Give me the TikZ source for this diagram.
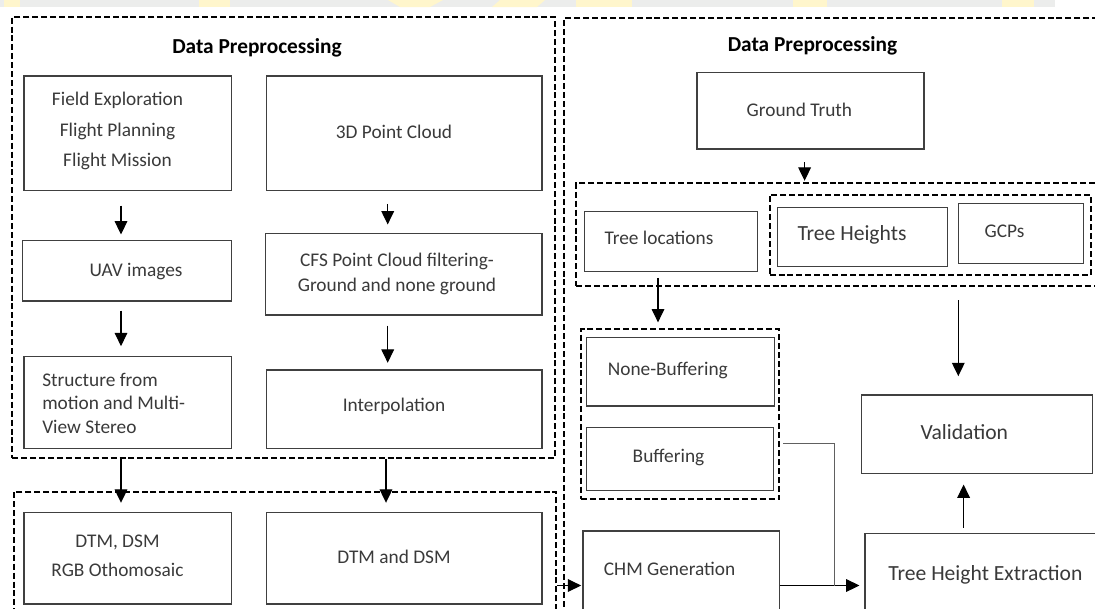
\documentclass[tikz,border=0pt]{standalone}
\usepackage{fontspec}
\setmainfont{Carlito}
\usetikzlibrary{fit,calc,arrows.meta}
\definecolor{boxline}{HTML}{404040}
\definecolor{txtc}{HTML}{3A3A3A}
\definecolor{lnkc}{HTML}{606060}
\definecolor{wmgray}{HTML}{ECEDEC}
\definecolor{wmyel}{HTML}{FFF6CC}
\begin{document}
\begin{tikzpicture}[x=0.75pt,y=-0.75pt,
  box/.style={draw=boxline, line width=0.8pt, inner sep=0pt},
  grp/.style={draw=black, line width=1.4pt, dash pattern=on 4.5pt off 2.2pt, inner sep=0pt},
  txt/.style={text=txtc, font=\fontsize{14.5}{17}\selectfont, inner sep=0pt, align=center},
  big/.style={txt, font=\fontsize{16.2}{19}\selectfont},
  ttl/.style={text=black, font=\bfseries\fontsize{16}{19}\selectfont, inner sep=0pt},
  arr/.style={draw=black, line width=0.8pt, -{Triangle[length=10pt,width=9.5pt]}},
  lnk/.style={draw=lnkc, line width=0.8pt},
]
\useasboundingbox (0,0) rectangle (1095,608);
\clip (0,0) rectangle (1095,608);
\fill[white] (0,0) rectangle (1095,608);

% watermark strip
\fill[wmgray] (0,0) rectangle (1055,7);
\fill[wmyel] (3.5,0) rectangle (19.5,7);
\fill[wmyel] (199,0) rectangle (230,7);
\fill[wmyel] (388,0) -- (443,0) -- (430,7) -- (400,7) -- cycle;
\fill[wmyel] (500,0) -- (545,0) -- (537,7) -- (492,7) -- cycle;
\fill[wmyel] (576,0) rectangle (632,7);
\fill[wmyel] (793,0) rectangle (827,7);
\fill[wmyel] (1002,0) rectangle (1034,7);

% dashed groups
\node[grp, fit={(12.3,16.7)(555,458)}] (lgrp) {};
\node[grp, fit={(14,491.7)(556,640)}] (bgrp) {};
\node[grp, fit={(564.3,18.3)(1110,640)}] (rgrp) {};
\node[grp, fit={(576,183.3)(1110,286)}] (ggrp) {};
\node[grp, fit={(769.6,195)(1090.7,275)}] (hgrp) {};
\node[grp, fit={(581,329.3)(779.3,499)}] (bfgrp) {};

% titles
\node[ttl] (titleL) at (257,48) {Data Preprocessing};
\node[ttl] (titleR) at (812.5,45.7) {Data Preprocessing};

% boxes
\node[box, fit={(24,76)(231.6,190.7)}] (field) {};
\node[box, fit={(266.7,76)(542,190.7)}] (pc3d) {};
\node[box, fit={(22.8,240.7)(231.6,301)}] (uav) {};
\node[box, fit={(265.6,233.3)(542,315)}] (cfs) {};
\node[box, fit={(24,356.7)(231.6,448.3)}] (sfm) {};
\node[box, fit={(266.7,370)(542,448.3)}] (interp) {};
\node[box, fit={(24,512.7)(231.6,604)}] (dtma) {};
\node[box, fit={(266.7,512.7)(542,604)}] (dtmb) {};
\node[box, fit={(697,72.7)(924,149)}] (gt) {};
\node[box, fit={(584.3,211.7)(757.3,271.7)}] (tl) {};
\node[box, fit={(777.3,207.3)(947.8,266.7)}] (th) {};
\node[box, fit={(958.3,203.3)(1083.3,263.3)}] (gcp) {};
\node[box, fit={(586.4,337.3)(774.8,406)}] (nb) {};
\node[box, fit={(586.4,427.7)(773.3,490.7)}] (buf) {};
\node[box, fit={(861.5,395)(1092.4,473.3)}] (val) {};
\node[box, fit={(583,531)(779.4,640)}] (chm) {};
\node[box, fit={(865,533.3)(1110,640)}] (the) {};

% texts
\node[txt, font=\fontsize{14.5}{22.9}\selectfont] (fieldT) at (117.5,131) {Field Exploration\\Flight Planning\\Flight Mission};
\node[txt] (pc3dT) at (394,131.7) {3D Point Cloud};
\node[txt] (uavT) at (136,271.7) {UAV images};
\node[txt, font=\fontsize{14.5}{18.8}\selectfont] (cfsT) at (397,274.2) {CFS Point Cloud filtering-\\Ground and none ground};
\node[txt, anchor=west, align=left, font=\fontsize{14.5}{17.5}\selectfont] (sfmT) at (42,403.3) {Structure from\\motion and Multi-\\View Stereo};
\node[txt] (interpT) at (394,406.7) {Interpolation};
\node[txt, font=\fontsize{14.5}{21.8}\selectfont] (dtmaT) at (117.5,556.2) {DTM, DSM\\RGB Othomosaic};
\node[txt] (dtmbT) at (394,556.7) {DTM and DSM};
\node[txt] (gtT) at (799.4,110) {Ground Truth};
\node[txt] (tlT) at (659,238.3) {Tree locations};
\node[big] (thT) at (852,235) {Tree Heights};
\node[txt] (gcpT) at (1004.6,231.7) {GCPs};
\node[txt] (nbT) at (667.8,370) {None-Buffering};
\node[txt] (bufT) at (668.5,457.3) {Buffering};
\node[big] (valT) at (964.3,431.7) {Validation};
\node[txt] (chmT) at (669.6,569.3) {CHM Generation};
\node[big] (theT) at (985.4,575) {Tree Height Extraction};

% connectors (vertical ones keep the start x)
\draw[arr] ($(field.south)+(-6.8,14.3)$) coordinate (s1) -- ($(s1 |- uav.north)+(0,-5.7)$);
\draw[arr] ($(uav.south)+(-6.2,9)$) coordinate (s2) -- ($(s2 |- sfm.north)+(0,-10)$);
\draw[arr] ($(pc3d.south)+(-16.65,12.6)$) coordinate (s3) -- ($(s3 |- cfs.north)+(0,-8.3)$);
\draw[arr] ($(cfs.south)+(-16.1,10)$) coordinate (s4) -- ($(s4 |- interp.north)+(0,-6.7)$);
\draw[arr] ($(lgrp.south)+(-162.65,0)$) coordinate (s5) -- ($(s5 |- dtma.north)+(0,-9.4)$);
\draw[arr] ($(lgrp.south)+(102.35,0)$) coordinate (s6) -- ($(s6 |- dtmb.north)+(0,-9.4)$);
\draw[arr] (bgrp.east |- chm.west) -- ($(chm.west)+(-1.3,0)$);
\draw[arr] ($(gt.south)+(-5.9,12.7)$) coordinate (s8) -- ($(s8 |- ggrp.north)+(0,-1.6)$);
\draw[arr] ($(tl.south)+(-12.8,5.6)$) coordinate (s9) -- ($(s9 |- bfgrp.north)+(0,-6)$);
\draw[arr] ($(ggrp.south -| val.north)+(-18.65,13.3)$) coordinate (s10) -- ($(s10 |- val.north)+(0,-18.3)$);
\draw[arr] ($(the.north -| val.south)+(-13.35,-5)$) coordinate (s11) -- ($(s11 |- val.south)+(0,10.7)$);
\draw[arr] (chm.east) -- ($(chm.east -| the.west)+(-5,0)$);
\coordinate (bj) at ($(chm.east)+(54.6,0)$);
\draw[lnk] ($(buf.east)+(9.4,-15.9)$) -| (bj);
\end{tikzpicture}
\end{document}
